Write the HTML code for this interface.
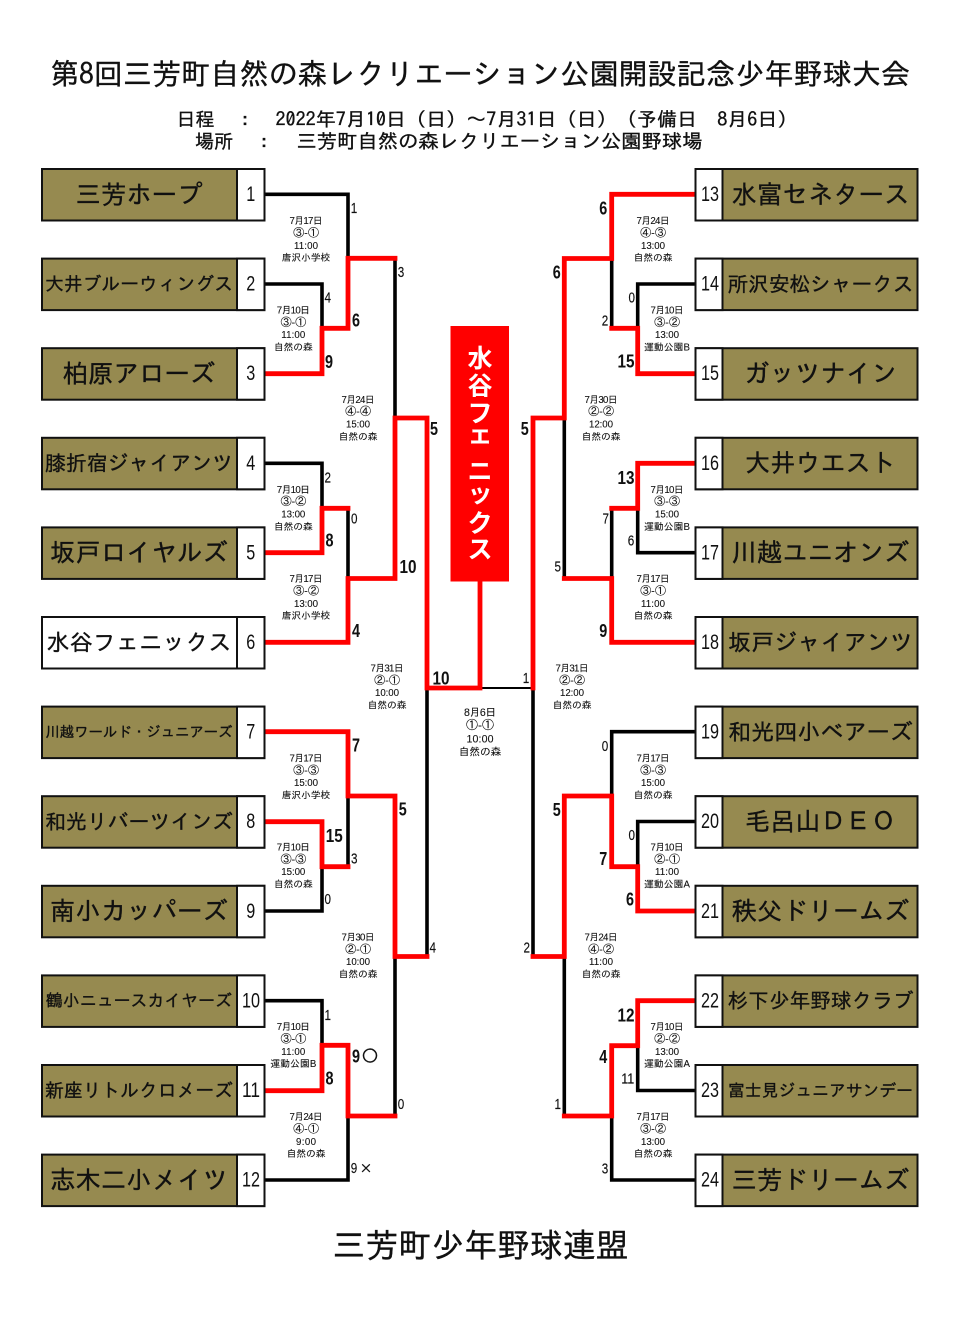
<!DOCTYPE html>
<html lang="ja"><head><meta charset="utf-8"><title>第8回三芳町自然の森レクリエーション公園開設記念少年野球大会</title>
<style>
html,body{margin:0;padding:0;background:#fff}
svg{display:block;filter:blur(.3px)}
text{font-family:"Liberation Sans","IPAGothic","Noto Sans CJK JP",sans-serif;fill:#111}
.j{font-family:"IPAGothic","Noto Sans CJK JP",sans-serif;text-anchor:middle;stroke:#111;stroke-width:.35px}
.n{font-size:21px;text-anchor:middle}
.i text{font-size:9.7px;text-anchor:middle;stroke:#111;stroke-width:.1px}
.i text.o{font-size:11px}
.c text{font-size:10.6px;text-anchor:middle;stroke:#111;stroke-width:.1px}
.c text.o{font-size:12px}
.s{font-size:14.5px;text-anchor:middle;stroke:#111;stroke-width:.15px}
.b{font-size:18px;font-weight:bold;text-anchor:middle}
.box rect{fill:#968a50;stroke:#111;stroke-width:2}
.box rect.w{fill:#fff}
.k path{fill:none;stroke:#000;stroke-width:3.6;stroke-linejoin:miter}
.r path{fill:none;stroke:#f00;stroke-width:4.8;stroke-linejoin:miter;stroke-linecap:square}
</style></head><body>
<svg xmlns="http://www.w3.org/2000/svg" width="960" height="1320" viewBox="0 0 960 1320">
<rect width="960" height="1320" fill="#fff"/>
<text class="j" x="480" y="84.500" font-size="29.500" textLength="860" lengthAdjust="spacingAndGlyphs">第8回三芳町自然の森レクリエーション公園開設記念少年野球大会</text>
<text class="j" x="195.500" y="126" font-size="19">日程</text>
<text class="j" x="245" y="126" font-size="19">:</text>
<text class="j" x="536.500" y="126" font-size="19" textLength="522" lengthAdjust="spacingAndGlyphs">2022年7月10日（日）～7月31日（日）（予備日　8月6日）</text>
<text class="j" x="214" y="148" font-size="19">場所</text>
<text class="j" x="264" y="148" font-size="19">:</text>
<text class="j" x="499.500" y="148" font-size="19.300" textLength="406" lengthAdjust="spacingAndGlyphs">三芳町自然の森レクリエーション公園野球場</text>

<g class="k">
<path d="M265 194.300H348V258"/>
<path d="M265 284H322V328"/>
<path d="M395 258V418"/>
<path d="M265 463.300H322V508"/>
<path d="M348 508V578"/>
<path d="M348 796V866"/>
<path d="M265 911H322V866"/>
<path d="M265 1000.700H322V1045"/>
<path d="M395 1116V956"/>
<path d="M265 1180H348V1116"/>
<path d="M427 688V956"/>
<path d="M533 688V956"/>
<path d="M611.700 258V328"/>
<path d="M695 284H637.700V328"/>
<path d="M564.300 418V578"/>
<path d="M611.700 508V578"/>
<path d="M637.700 508V552.700H695"/>
<path d="M695 731.700H611.700V796"/>
<path d="M695 821.500H637.700V866"/>
<path d="M564.300 956V1116"/>
<path d="M637.700 1045.700V1090.500H695"/>
<path d="M611.700 1116V1180H695"/>
<path d="M427 688H533" style="stroke-width:2"/>
</g>
<g class="r">
<path d="M395 258.300H348V328.300H322V373.700H267"/>
<path d="M267 552.700H322V508.300H348"/>
<path d="M267 642.300H348V578.500H395V418H427V688H480V582"/>
<path d="M267 731.700H348V796H395V956.500H427"/>
<path d="M267 821.700H322V866.700H348"/>
<path d="M267 1090.700H322V1045.300H348V1116H395"/>
<path d="M693 194.300H611.700V258.500H564.300V418H533V688"/>
<path d="M611.700 328.300H637.700V373.700H693"/>
<path d="M693 463.300H637.700V508.300H611.700"/>
<path d="M564.300 578.500H611.700V642.300H693"/>
<path d="M533 956.500H564.300V796H611.700V866.700H637.700V911H693"/>
<path d="M693 1000.700H637.700V1045.700H611.700V1116H564.300"/>
</g>

<rect x="450.500" y="326" width="58.500" height="255.500" fill="#f00"/>
<g style="font-family:'Noto Sans CJK JP',sans-serif;font-weight:bold;font-size:25px;text-anchor:middle;fill:#fff">
<text style="fill:#fff;font-family:'Noto Sans CJK JP',sans-serif" x="480" y="367">水</text>
<text style="fill:#fff;font-family:'Noto Sans CJK JP',sans-serif" x="480" y="394.500">谷</text>
<text style="fill:#fff;font-family:'Noto Sans CJK JP',sans-serif" x="480" y="422">フ</text>
<text style="fill:#fff;font-family:'Noto Sans CJK JP',sans-serif" x="480" y="443">ェ</text>
<text style="fill:#fff;font-family:'Noto Sans CJK JP',sans-serif" x="480" y="480">ニ</text>
<text style="fill:#fff;font-family:'Noto Sans CJK JP',sans-serif" x="480" y="502">ッ</text>
<text style="fill:#fff;font-family:'Noto Sans CJK JP',sans-serif" x="480" y="532">ク</text>
<text style="fill:#fff;font-family:'Noto Sans CJK JP',sans-serif" x="480" y="558">ス</text>
</g>

<g class="box">
<rect x="42" y="169" width="222.500" height="51.500"/><rect class="w" x="237" y="169" width="27.500" height="51.500"/>
<rect x="42" y="258.600" width="222.500" height="51.500"/><rect class="w" x="237" y="258.600" width="27.500" height="51.500"/>
<rect x="42" y="348.200" width="222.500" height="51.500"/><rect class="w" x="237" y="348.200" width="27.500" height="51.500"/>
<rect x="42" y="437.800" width="222.500" height="51.500"/><rect class="w" x="237" y="437.800" width="27.500" height="51.500"/>
<rect x="42" y="527.400" width="222.500" height="51.500"/><rect class="w" x="237" y="527.400" width="27.500" height="51.500"/>
<rect class="w" x="42" y="617" width="222.500" height="51.500"/><rect class="w" x="237" y="617" width="27.500" height="51.500"/>
<rect x="42" y="706.600" width="222.500" height="51.500"/><rect class="w" x="237" y="706.600" width="27.500" height="51.500"/>
<rect x="42" y="796.200" width="222.500" height="51.500"/><rect class="w" x="237" y="796.200" width="27.500" height="51.500"/>
<rect x="42" y="885.800" width="222.500" height="51.500"/><rect class="w" x="237" y="885.800" width="27.500" height="51.500"/>
<rect x="42" y="975.400" width="222.500" height="51.500"/><rect class="w" x="237" y="975.400" width="27.500" height="51.500"/>
<rect x="42" y="1065" width="222.500" height="51.500"/><rect class="w" x="237" y="1065" width="27.500" height="51.500"/>
<rect x="42" y="1154.600" width="222.500" height="51.500"/><rect class="w" x="237" y="1154.600" width="27.500" height="51.500"/>

<rect x="695.500" y="169" width="222" height="51.500"/><rect class="w" x="695.500" y="169" width="27" height="51.500"/>
<rect x="695.500" y="258.600" width="222" height="51.500"/><rect class="w" x="695.500" y="258.600" width="27" height="51.500"/>
<rect x="695.500" y="348.200" width="222" height="51.500"/><rect class="w" x="695.500" y="348.200" width="27" height="51.500"/>
<rect x="695.500" y="437.800" width="222" height="51.500"/><rect class="w" x="695.500" y="437.800" width="27" height="51.500"/>
<rect x="695.500" y="527.400" width="222" height="51.500"/><rect class="w" x="695.500" y="527.400" width="27" height="51.500"/>
<rect x="695.500" y="617" width="222" height="51.500"/><rect class="w" x="695.500" y="617" width="27" height="51.500"/>
<rect x="695.500" y="706.600" width="222" height="51.500"/><rect class="w" x="695.500" y="706.600" width="27" height="51.500"/>
<rect x="695.500" y="796.200" width="222" height="51.500"/><rect class="w" x="695.500" y="796.200" width="27" height="51.500"/>
<rect x="695.500" y="885.800" width="222" height="51.500"/><rect class="w" x="695.500" y="885.800" width="27" height="51.500"/>
<rect x="695.500" y="975.400" width="222" height="51.500"/><rect class="w" x="695.500" y="975.400" width="27" height="51.500"/>
<rect x="695.500" y="1065" width="222" height="51.500"/><rect class="w" x="695.500" y="1065" width="27" height="51.500"/>
<rect x="695.500" y="1154.600" width="222" height="51.500"/><rect class="w" x="695.500" y="1154.600" width="27" height="51.500"/>
</g>

<!-- team names left -->
<text class="j" x="139" y="203.300" font-size="25.500" textLength="127" lengthAdjust="spacingAndGlyphs">三芳ホープ</text>
<text class="j" x="139" y="290.600" font-size="18.700" textLength="188" lengthAdjust="spacingAndGlyphs">大井ブルーウィングス</text>
<text class="j" x="139" y="382.500" font-size="25.500" textLength="153" lengthAdjust="spacingAndGlyphs">柏原アローズ</text>
<text class="j" x="139" y="470.500" font-size="20.800" textLength="188" lengthAdjust="spacingAndGlyphs">膝折宿ジャイアンツ</text>
<text class="j" x="139" y="561.700" font-size="25.500" textLength="178" lengthAdjust="spacingAndGlyphs">坂戸ロイヤルズ</text>
<text class="j" x="139" y="650.500" font-size="23" textLength="185" lengthAdjust="spacingAndGlyphs">水谷フェニックス</text>
<text class="j" x="139" y="737" font-size="14.500" textLength="187" lengthAdjust="spacingAndGlyphs">川越ワールド・ジュニアーズ</text>
<text class="j" x="139" y="828.900" font-size="20.800" textLength="188" lengthAdjust="spacingAndGlyphs">和光リバーツインズ</text>
<text class="j" x="139" y="920.100" font-size="25.500" textLength="178" lengthAdjust="spacingAndGlyphs">南小カッパーズ</text>
<text class="j" x="139" y="1006.700" font-size="16.900" textLength="186" lengthAdjust="spacingAndGlyphs">鶴小ニュースカイヤーズ</text>
<text class="j" x="139" y="1097" font-size="18.800" textLength="188" lengthAdjust="spacingAndGlyphs">新座リトルクロメーズ</text>
<text class="j" x="139" y="1188.900" font-size="25.500" textLength="178" lengthAdjust="spacingAndGlyphs">志木二小メイツ</text>
<!-- team names right -->
<text class="j" x="820.500" y="203.300" font-size="25.500" textLength="178" lengthAdjust="spacingAndGlyphs">水富セネタース</text>
<text class="j" x="820.500" y="291.300" font-size="20.700" textLength="186" lengthAdjust="spacingAndGlyphs">所沢安松シャークス</text>
<text class="j" x="820.500" y="382.500" font-size="25.500" textLength="153" lengthAdjust="spacingAndGlyphs">ガッツナイン</text>
<text class="j" x="820.500" y="472.100" font-size="25.500" textLength="151" lengthAdjust="spacingAndGlyphs">大井ウエスト</text>
<text class="j" x="820.500" y="561.700" font-size="25.500" textLength="178" lengthAdjust="spacingAndGlyphs">川越ユニオンズ</text>
<text class="j" x="820.500" y="650.500" font-size="23" textLength="185" lengthAdjust="spacingAndGlyphs">坂戸ジャイアンツ</text>
<text class="j" x="820.500" y="740" font-size="23" textLength="185" lengthAdjust="spacingAndGlyphs">和光四小ベアーズ</text>
<text class="j" x="820.500" y="830.500" font-size="25.500" textLength="151" lengthAdjust="spacingAndGlyphs">毛呂山ＤＥＯ</text>
<text class="j" x="820.500" y="920.100" font-size="25.500" textLength="178" lengthAdjust="spacingAndGlyphs">秩父ドリームズ</text>
<text class="j" x="820.500" y="1008" font-size="20.700" textLength="186" lengthAdjust="spacingAndGlyphs">杉下少年野球クラブ</text>
<text class="j" x="820.500" y="1096.500" font-size="16.900" textLength="185" lengthAdjust="spacingAndGlyphs">富士見ジュニアサンデー</text>
<text class="j" x="820.500" y="1188.900" font-size="25.500" textLength="178" lengthAdjust="spacingAndGlyphs">三芳ドリームズ</text>

<!-- seed numbers -->
<g class="n" transform="translate(0,-.8)">
<text x="250.700" y="201.800" textLength="9" lengthAdjust="spacingAndGlyphs">1</text>
<text x="250.700" y="291.400" textLength="9" lengthAdjust="spacingAndGlyphs">2</text>
<text x="250.700" y="381" textLength="9" lengthAdjust="spacingAndGlyphs">3</text>
<text x="250.700" y="470.600" textLength="9" lengthAdjust="spacingAndGlyphs">4</text>
<text x="250.700" y="560.200" textLength="9" lengthAdjust="spacingAndGlyphs">5</text>
<text x="250.700" y="649.800" textLength="9" lengthAdjust="spacingAndGlyphs">6</text>
<text x="250.700" y="739.400" textLength="9" lengthAdjust="spacingAndGlyphs">7</text>
<text x="250.700" y="829" textLength="9" lengthAdjust="spacingAndGlyphs">8</text>
<text x="250.700" y="918.600" textLength="9" lengthAdjust="spacingAndGlyphs">9</text>
<text x="251" y="1008.200" textLength="18" lengthAdjust="spacingAndGlyphs">10</text>
<text x="251" y="1097.800" textLength="18" lengthAdjust="spacingAndGlyphs">11</text>
<text x="251" y="1187.400" textLength="18" lengthAdjust="spacingAndGlyphs">12</text>
<text x="710" y="201.800" textLength="18" lengthAdjust="spacingAndGlyphs">13</text>
<text x="710" y="291.400" textLength="18" lengthAdjust="spacingAndGlyphs">14</text>
<text x="710" y="381" textLength="18" lengthAdjust="spacingAndGlyphs">15</text>
<text x="710" y="470.600" textLength="18" lengthAdjust="spacingAndGlyphs">16</text>
<text x="710" y="560.200" textLength="18" lengthAdjust="spacingAndGlyphs">17</text>
<text x="710" y="649.800" textLength="18" lengthAdjust="spacingAndGlyphs">18</text>
<text x="710" y="739.400" textLength="18" lengthAdjust="spacingAndGlyphs">19</text>
<text x="710" y="829" textLength="18" lengthAdjust="spacingAndGlyphs">20</text>
<text x="710" y="918.600" textLength="18" lengthAdjust="spacingAndGlyphs">21</text>
<text x="710" y="1008.200" textLength="18" lengthAdjust="spacingAndGlyphs">22</text>
<text x="710" y="1097.800" textLength="18" lengthAdjust="spacingAndGlyphs">23</text>
<text x="710" y="1187.400" textLength="18" lengthAdjust="spacingAndGlyphs">24</text>
</g>

<!-- match info -->
<g class="i">
<g transform="translate(306,224.200)"><text textLength="33">7月17日</text><text y="12.300" class="o">③-①</text><text y="24.700" textLength="24">11:00</text><text y="37">唐沢小学校</text></g>
<g transform="translate(293.300,313.500)"><text textLength="33">7月10日</text><text y="12.300" class="o">③-①</text><text y="24.700" textLength="24">11:00</text><text y="37">自然の森</text></g>
<g transform="translate(358,402.800)"><text textLength="33">7月24日</text><text y="12.300" class="o">④-④</text><text y="24.700" textLength="24">15:00</text><text y="37">自然の森</text></g>
<g transform="translate(293.300,492.800)"><text textLength="33">7月10日</text><text y="12.300" class="o">③-②</text><text y="24.700" textLength="24">13:00</text><text y="37">自然の森</text></g>
<g transform="translate(306,582.200)"><text textLength="33">7月17日</text><text y="12.300" class="o">③-②</text><text y="24.700" textLength="24">13:00</text><text y="37">唐沢小学校</text></g>
<g transform="translate(387,671.500)"><text textLength="33">7月31日</text><text y="12.300" class="o">②-①</text><text y="24.700" textLength="24">10:00</text><text y="37">自然の森</text></g>
<g transform="translate(306,761.500)"><text textLength="33">7月17日</text><text y="12.300" class="o">③-③</text><text y="24.700" textLength="24">15:00</text><text y="37">唐沢小学校</text></g>
<g transform="translate(293.300,850.500)"><text textLength="33">7月10日</text><text y="12.300" class="o">③-③</text><text y="24.700" textLength="24">15:00</text><text y="37">自然の森</text></g>
<g transform="translate(358,940.500)"><text textLength="33">7月30日</text><text y="12.300" class="o">②-①</text><text y="24.700" textLength="24">10:00</text><text y="37">自然の森</text></g>
<g transform="translate(293.300,1030.200)"><text textLength="33">7月10日</text><text y="12.300" class="o">③-①</text><text y="24.700" textLength="24">11:00</text><text y="37" textLength="46">運動公園B</text></g>
<g transform="translate(306,1120.200)"><text textLength="33">7月24日</text><text y="12.300" class="o">④-①</text><text y="24.700" textLength="20">9:00</text><text y="37">自然の森</text></g>

<g transform="translate(653,224.200)"><text textLength="33">7月24日</text><text y="12.300" class="o">④-③</text><text y="24.700" textLength="24">13:00</text><text y="37">自然の森</text></g>
<g transform="translate(667,313.500)"><text textLength="33">7月10日</text><text y="12.300" class="o">③-②</text><text y="24.700" textLength="24">13:00</text><text y="37" textLength="46">運動公園B</text></g>
<g transform="translate(601,402.800)"><text textLength="33">7月30日</text><text y="12.300" class="o">②-②</text><text y="24.700" textLength="24">12:00</text><text y="37">自然の森</text></g>
<g transform="translate(667,492.800)"><text textLength="33">7月10日</text><text y="12.300" class="o">③-③</text><text y="24.700" textLength="24">15:00</text><text y="37" textLength="46">運動公園B</text></g>
<g transform="translate(653,582.200)"><text textLength="33">7月17日</text><text y="12.300" class="o">③-①</text><text y="24.700" textLength="24">11:00</text><text y="37">自然の森</text></g>
<g transform="translate(572,671.500)"><text textLength="33">7月31日</text><text y="12.300" class="o">②-②</text><text y="24.700" textLength="24">12:00</text><text y="37">自然の森</text></g>
<g transform="translate(653,761.500)"><text textLength="33">7月17日</text><text y="12.300" class="o">③-③</text><text y="24.700" textLength="24">15:00</text><text y="37">自然の森</text></g>
<g transform="translate(667,850.500)"><text textLength="33">7月10日</text><text y="12.300" class="o">②-①</text><text y="24.700" textLength="24">11:00</text><text y="37" textLength="46">運動公園A</text></g>
<g transform="translate(601,940.500)"><text textLength="33">7月24日</text><text y="12.300" class="o">④-②</text><text y="24.700" textLength="24">11:00</text><text y="37">自然の森</text></g>
<g transform="translate(667,1030.200)"><text textLength="33">7月10日</text><text y="12.300" class="o">②-②</text><text y="24.700" textLength="24">13:00</text><text y="37" textLength="46">運動公園A</text></g>
<g transform="translate(653,1120.200)"><text textLength="33">7月17日</text><text y="12.300" class="o">③-②</text><text y="24.700" textLength="24">13:00</text><text y="37">自然の森</text></g>
</g>
<g class="c" transform="translate(480,716)">
<text textLength="32">8月6日</text><text y="13" class="o">①-①</text><text y="26.500" textLength="27">10:00</text><text y="39.500">自然の森</text>
</g>

<!-- scores -->
<g>
<text class="s" x="354" y="213" textLength="6.500" lengthAdjust="spacingAndGlyphs">1</text>
<text class="s" x="401" y="277" textLength="6.500" lengthAdjust="spacingAndGlyphs">3</text>
<text class="s" x="327.700" y="302.700" textLength="6.500" lengthAdjust="spacingAndGlyphs">4</text>
<text class="s" x="327.700" y="482.300" textLength="6.500" lengthAdjust="spacingAndGlyphs">2</text>
<text class="s" x="354.300" y="523.300" textLength="6.500" lengthAdjust="spacingAndGlyphs">0</text>
<text class="s" x="354.300" y="863.300" textLength="6.500" lengthAdjust="spacingAndGlyphs">3</text>
<text class="s" x="327.700" y="904" textLength="6.500" lengthAdjust="spacingAndGlyphs">0</text>
<text class="s" x="432.700" y="952.700" textLength="6.500" lengthAdjust="spacingAndGlyphs">4</text>
<text class="s" x="327.700" y="1020" textLength="6.500" lengthAdjust="spacingAndGlyphs">1</text>
<text class="s" x="401" y="1109" textLength="6.500" lengthAdjust="spacingAndGlyphs">0</text>
<text class="s" x="354" y="1173" textLength="6.500" lengthAdjust="spacingAndGlyphs">9</text>
<text class="j" x="366" y="1173" font-size="13">×</text>
<text class="s" x="526" y="683" textLength="6.500" lengthAdjust="spacingAndGlyphs">1</text>
<text class="s" x="631.700" y="302.700" textLength="6.500" lengthAdjust="spacingAndGlyphs">0</text>
<text class="s" x="605" y="325.700" textLength="6.500" lengthAdjust="spacingAndGlyphs">2</text>
<text class="s" x="605.700" y="523.300" textLength="6.500" lengthAdjust="spacingAndGlyphs">7</text>
<text class="s" x="631" y="545.700" textLength="6.500" lengthAdjust="spacingAndGlyphs">6</text>
<text class="s" x="557.700" y="571.700" textLength="6.500" lengthAdjust="spacingAndGlyphs">5</text>
<text class="s" x="605" y="751" textLength="6.500" lengthAdjust="spacingAndGlyphs">0</text>
<text class="s" x="631.700" y="840" textLength="6.500" lengthAdjust="spacingAndGlyphs">0</text>
<text class="s" x="526.700" y="952.300" textLength="6.500" lengthAdjust="spacingAndGlyphs">2</text>
<text class="s" x="627.700" y="1083.300" textLength="13" lengthAdjust="spacingAndGlyphs">11</text>
<text class="s" x="557.700" y="1109" textLength="6.500" lengthAdjust="spacingAndGlyphs">1</text>
<text class="s" x="605" y="1173.300" textLength="6.500" lengthAdjust="spacingAndGlyphs">3</text>

<text class="b" x="356" y="326.500" textLength="8" lengthAdjust="spacingAndGlyphs">6</text>
<text class="b" x="329" y="368" textLength="8" lengthAdjust="spacingAndGlyphs">9</text>
<text class="b" x="329.500" y="546.500" textLength="8" lengthAdjust="spacingAndGlyphs">8</text>
<text class="b" x="408" y="573" textLength="17" lengthAdjust="spacingAndGlyphs">10</text>
<text class="b" x="356" y="637" textLength="8" lengthAdjust="spacingAndGlyphs">4</text>
<text class="b" x="434" y="434.800" textLength="8" lengthAdjust="spacingAndGlyphs">5</text>
<text class="b" x="441" y="684.500" textLength="17" lengthAdjust="spacingAndGlyphs">10</text>
<text class="b" x="356" y="751.500" textLength="8" lengthAdjust="spacingAndGlyphs">7</text>
<text class="b" x="334.300" y="842" textLength="17" lengthAdjust="spacingAndGlyphs">15</text>
<text class="b" x="402.700" y="815.500" textLength="8" lengthAdjust="spacingAndGlyphs">5</text>
<text class="b" x="356" y="1062.500" textLength="8" lengthAdjust="spacingAndGlyphs">9</text>
<text class="j" x="370" y="1062" font-size="17">○</text>
<text class="b" x="329.500" y="1084.500" textLength="8" lengthAdjust="spacingAndGlyphs">8</text>

<text class="b" x="603.300" y="214.500" textLength="8" lengthAdjust="spacingAndGlyphs">6</text>
<text class="b" x="556.700" y="278.500" textLength="8" lengthAdjust="spacingAndGlyphs">6</text>
<text class="b" x="626" y="367.500" textLength="17" lengthAdjust="spacingAndGlyphs">15</text>
<text class="b" x="524.700" y="434.800" textLength="8" lengthAdjust="spacingAndGlyphs">5</text>
<text class="b" x="626" y="483.800" textLength="17" lengthAdjust="spacingAndGlyphs">13</text>
<text class="b" x="603.300" y="637" textLength="8" lengthAdjust="spacingAndGlyphs">9</text>
<text class="b" x="556.700" y="815.800" textLength="8" lengthAdjust="spacingAndGlyphs">5</text>
<text class="b" x="603.300" y="864.800" textLength="8" lengthAdjust="spacingAndGlyphs">7</text>
<text class="b" x="630" y="905.500" textLength="8" lengthAdjust="spacingAndGlyphs">6</text>
<text class="b" x="626" y="1021.500" textLength="17" lengthAdjust="spacingAndGlyphs">12</text>
<text class="b" x="603.300" y="1063" textLength="8" lengthAdjust="spacingAndGlyphs">4</text>
</g>

<text class="j" x="480.500" y="1257" font-size="33" textLength="296" lengthAdjust="spacingAndGlyphs">三芳町少年野球連盟</text>
</svg>
</body></html>
